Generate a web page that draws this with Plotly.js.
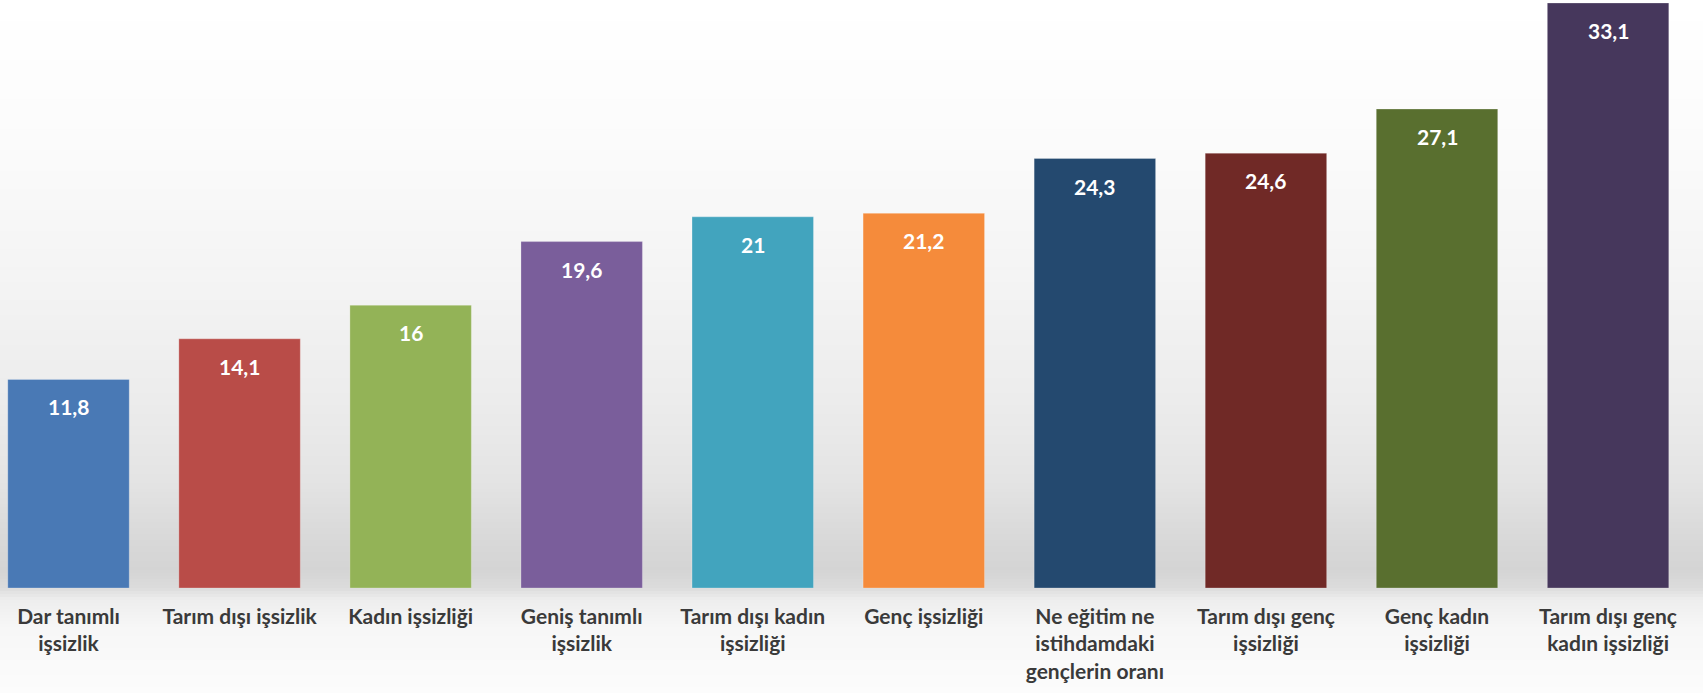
<!DOCTYPE html>
<html>
<head>
<meta charset="utf-8">
<script src="https://cdn.plot.ly/plotly-3.0.1.min.js"></script>
<style>
html,body{margin:0;padding:0;background:#ffffff;}
#chart{width:1703px;height:693px;}
</style>
</head>
<body>
<div id="chart"></div>
<script>
// ---- data ----
const categories = [
  "Dar tanımlı<br>işsizlik",
  "Tarım dışı işsizlik",
  "Kadın işsizliği",
  "Geniş tanımlı<br>işsizlik",
  "Tarım dışı kadın<br>işsizliği",
  "Genç işsizliği",
  "Ne eğitim ne<br>istihdamdaki<br>gençlerin oranı",
  "Tarım dışı genç<br>işsizliği",
  "Genç kadın<br>işsizliği",
  "Tarım dışı genç<br>kadın işsizliği"
];
const values = [11.8, 14.1, 16, 19.6, 21, 21.2, 24.3, 24.6, 27.1, 33.1];
const valueLabels = values.map(v => String(v).replace('.', ','));
const barColors = ["#4979B5","#B94C48","#93B357","#7A5E9B","#42A4BE","#F58B3B",
                   "#24496F","#702926","#596F2F","#46375C"];

const W = 1703, H = 693;
const idx = categories.map((c, i) => i);

// ---- background bands (soft gray gradient like original slide) ----
function grayAt(py) {
  const stops = [[0,255],[120,252],[260,245],[400,236],[480,228],[530,218],[570,212],[588,220],[600,238],[630,247],[693,252]];
  for (let k = 0; k < stops.length - 1; k++) {
    const [y0, g0] = stops[k], [y1, g1] = stops[k+1];
    if (py >= y0 && py <= y1) return Math.round(g0 + (g1 - g0) * (py - y0) / (y1 - y0));
  }
  return 255;
}
const plotBottom = 588;
const shapes = [];
const step = 3;
for (let py = 0; py < H; py += step) {
  const g = grayAt(py + step / 2);
  shapes.push({
    type: 'rect', xref: 'paper', yref: 'paper', layer: 'below',
    x0: 0, x1: 1,
    y0: 1 - (py + step) / plotBottom, y1: 1 - py / plotBottom,
    line: {width: 0}, fillcolor: `rgb(${g},${g},${g})`
  });
}

const trace = {
  type: 'bar',
  x: idx,
  y: values,
  marker: {color: barColors, line: {width: 1, color: 'rgba(255,255,255,0.25)'}},
  width: 0.71,
  hoverinfo: 'none',
  cliponaxis: false
};

const annotations = idx.map(i => ({
  x: i, y: values[i], xref: 'x', yref: 'y',
  text: '<b>' + valueLabels[i] + '</b>',
  showarrow: false, yanchor: 'top', yshift: -13,
  font: {family: 'Lato, "Open Sans", sans-serif', size: 21, color: '#ffffff'}
}));

const layout = {
  width: W, height: H,
  margin: {l: 0, r: 0, t: 0, b: H - plotBottom, pad: 0},
  paper_bgcolor: '#ffffff',
  plot_bgcolor: 'rgba(0,0,0,0)',
  showlegend: false,
  bargap: 0.29,
  xaxis: {
    range: [-0.4005, 9.555],
    tickvals: idx,
    ticktext: categories.map(c => '<b>' + c.split('<br>').join('</b><br><b>') + '</b>'),
    tickfont: {family: 'Lato, "Open Sans", sans-serif', size: 21, color: '#3a3a3a'},
    ticks: '', ticklabelstandoff: 14,
    showgrid: false, zeroline: false, showline: false, tickangle: 0,
    fixedrange: true
  },
  yaxis: {
    range: [0, 33.27],
    visible: false, showgrid: false, zeroline: false, fixedrange: true
  },
  shapes: shapes,
  annotations: annotations,
  font: {family: 'Lato, sans-serif'}
};

Plotly.newPlot('chart', [trace], layout, {displayModeBar: false, staticPlot: true});
</script>
</body>
</html>
